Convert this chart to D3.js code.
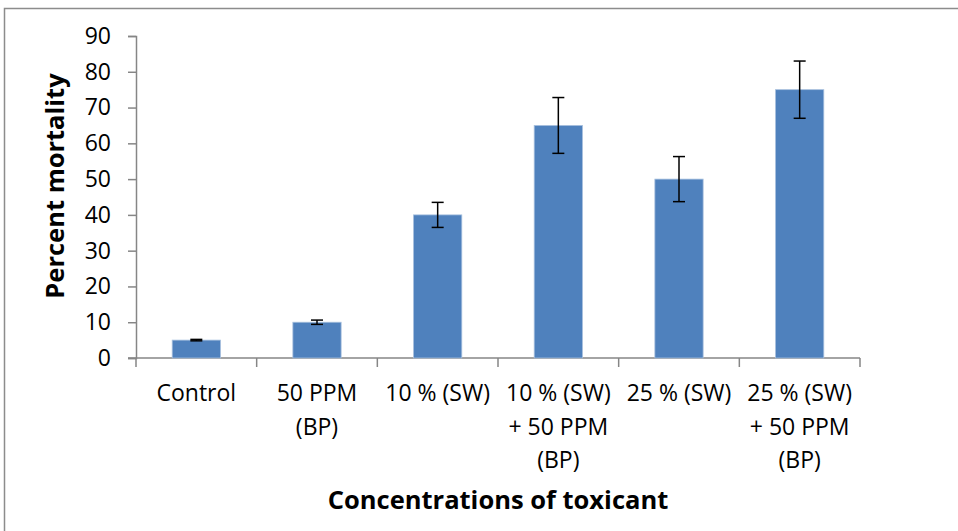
<!DOCTYPE html>
<html>
<head>
<meta charset="utf-8">
<script src="https://cdn.jsdelivr.net/npm/d3@7"></script>
<style>
body { margin: 0; background: #fff; }
text { font-family: "Open Sans", sans-serif; }
</style>
</head>
<body>
<script>
var categories = ["Control", "50 PPM (BP)", "10 % (SW)", "10 % (SW) + 50 PPM (BP)", "25 % (SW)", "25 % (SW) + 50 PPM (BP)"];
var catLines = [["Control"], ["50 PPM", "(BP)"], ["10 % (SW)"], ["10 % (SW)", "+ 50 PPM", "(BP)"], ["25 % (SW)"], ["25 % (SW)", "+ 50 PPM", "(BP)"]];
var mortality = [5, 10, 40, 65, 50, 75];
var errors = [0.2, 0.6, 3.5, 7.8, 6.3, 8];
var yTicks = [0, 10, 20, 30, 40, 50, 60, 70, 80, 90];

var svg = d3.select("body")
   .append("svg")
   .attr("width", 958)
   .attr("height", 531);

// chart border
svg.append("rect")
  .attr("x", 4.5).attr("y", 8.5)
  .attr("width", 970).attr("height", 540)
  .style("fill", "none").style("stroke", "#8c8c8c").style("stroke-width", 1.5);

var x = d3.scaleBand().domain(categories).range([136, 860]).paddingInner(0.6).paddingOuter(0.3);
var xs = d3.scaleBand().domain(categories).range([136, 860]);
var y = d3.scaleLinear().domain([0, 90]).range([358, 36]);

// y axis
var yAxis = svg.append("g").attr("transform", "translate(136,0)")
  .call(d3.axisLeft(y).tickValues(yTicks).tickSize(8).tickSizeOuter(8).tickPadding(17));
yAxis.select(".domain").style("stroke", "#868686").style("stroke-width", 1.5);
yAxis.selectAll(".tick line").style("stroke", "#868686").style("stroke-width", 1.5);
yAxis.selectAll(".tick text").style("font-size", "23px").style("fill", "#000")
  .attr("font-family", "Open Sans");

// x axis line + ticks between categories
svg.append("line").attr("x1", 128).attr("x2", 860).attr("y1", 358).attr("y2", 358)
  .style("stroke", "#868686").style("stroke-width", 1.5);
var bounds = categories.map(function(c){ return xs(c); }).concat([860]);
svg.selectAll(".xt").data(bounds).enter().append("line")
  .attr("x1", function(d){ return d; }).attr("x2", function(d){ return d; })
  .attr("y1", 358).attr("y2", 367)
  .style("stroke", "#868686").style("stroke-width", 1.5);

// bars
svg.selectAll(".bar").data(mortality).enter().append("rect")
  .attr("x", function(d, i){ return x(categories[i]); })
  .attr("y", function(d){ return y(d); })
  .attr("width", x.bandwidth())
  .attr("height", function(d){ return y(0) - y(d); })
  .style("fill", "#4F81BD")
  .style("stroke", "#a7c0de").style("stroke-width", 0.8);

// error bars
var eb = svg.selectAll(".err").data(mortality).enter().append("g");
eb.append("line")
  .attr("x1", function(d, i){ return xs(categories[i]) + xs.bandwidth() / 2; })
  .attr("x2", function(d, i){ return xs(categories[i]) + xs.bandwidth() / 2; })
  .attr("y1", function(d, i){ return y(d + errors[i]); })
  .attr("y2", function(d, i){ return y(d - errors[i]); })
  .style("stroke", "#000").style("stroke-width", 1.5);
[1, -1].forEach(function(s){
  eb.append("line")
    .attr("x1", function(d, i){ return xs(categories[i]) + xs.bandwidth() / 2 - 6; })
    .attr("x2", function(d, i){ return xs(categories[i]) + xs.bandwidth() / 2 + 6; })
    .attr("y1", function(d, i){ return y(d + s * errors[i]); })
    .attr("y2", function(d, i){ return y(d + s * errors[i]); })
    .style("stroke", "#000").style("stroke-width", 1.5);
});

// category labels
catLines.forEach(function(lines, i){
  var cx = xs(categories[i]) + xs.bandwidth() / 2;
  var t = svg.append("text")
    .attr("x", cx)
    .attr("y", 401)
    .attr("text-anchor", "middle")
    .style("font-size", "23px").style("fill", "#000");
  lines.forEach(function(l, j){
    t.append("tspan").attr("x", cx)
      .attr("dy", j === 0 ? 0 : 33.5).text(l);
  });
});

// axis titles
svg.append("text")
  .attr("x", 498).attr("y", 509)
  .attr("text-anchor", "middle")
  .style("font-size", "25.5px").style("font-weight", "bold")
  .text("Concentrations of toxicant");

svg.append("text")
  .attr("transform", "translate(64,186) rotate(-90)")
  .attr("text-anchor", "middle")
  .style("font-size", "25.5px").style("font-weight", "bold")
  .text("Percent mortality");
</script>
</body>
</html>
